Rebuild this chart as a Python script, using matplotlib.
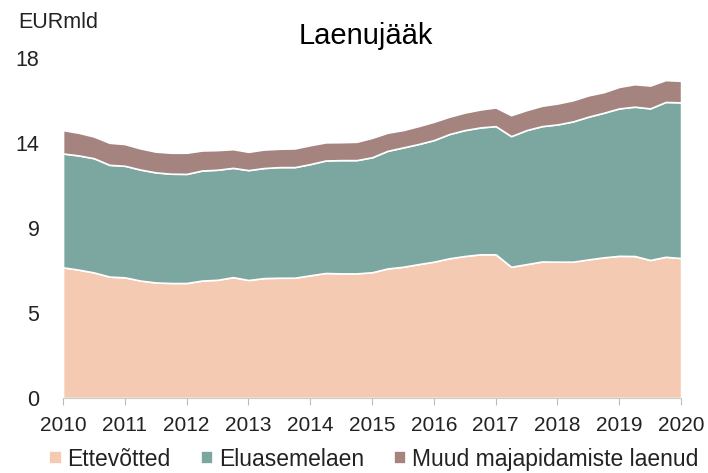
import numpy as np
import matplotlib
matplotlib.use("Agg")
import matplotlib.pyplot as plt

# kvartalid 2010 Q1 ... 2020 Q1
years = np.arange(41) / 4 + 2010

ettevotted = [6.92, 6.80, 6.65, 6.43, 6.39, 6.22, 6.12, 6.09, 6.09, 6.22,
              6.26, 6.40, 6.25, 6.35, 6.37, 6.37, 6.50, 6.62, 6.60, 6.60,
              6.66, 6.86, 6.95, 7.09, 7.22, 7.40, 7.52, 7.61, 7.61, 6.95,
              7.09, 7.23, 7.22, 7.22, 7.34, 7.45, 7.53, 7.52, 7.31, 7.48, 7.41]
eluasemelaen = [6.03, 6.05, 6.05, 5.92, 5.91, 5.88, 5.83, 5.79, 5.78, 5.83,
                5.83, 5.79, 5.82, 5.83, 5.86, 5.86, 5.89, 5.96, 6.00, 6.00,
                6.09, 6.23, 6.32, 6.36, 6.44, 6.58, 6.67, 6.72, 6.79, 6.92,
                7.10, 7.17, 7.27, 7.43, 7.56, 7.66, 7.81, 7.91, 8.03, 8.20, 8.25]
muud = [1.24, 1.20, 1.15, 1.17, 1.15, 1.12, 1.10, 1.11, 1.12, 1.06,
        1.04, 0.99, 0.97, 0.98, 0.97, 0.99, 1.00, 0.96, 0.95, 0.97,
        1.03, 0.96, 0.92, 0.95, 0.97, 0.92, 0.93, 0.95, 0.99, 1.11,
        1.06, 1.08, 1.11, 1.12, 1.13, 1.09, 1.14, 1.19, 1.21, 1.16, 1.14]

labels = ["Ettevõtted", "Eluasemelaen", "Muud majapidamiste laenud"]
colors = ["#F4CBB2", "#7BA7A0", "#A5837F"]
yticks = [0, 4.5, 9, 13.5, 18]
yticklabels = ["0", "5", "9", "14", "18"]

plt.rcParams["font.family"] = ["Liberation Sans", "DejaVu Sans"]

fig = plt.figure(figsize=(7.08, 4.73), dpi=100)
ax = fig.add_axes([0.089, 0.1586, 0.873, 0.7184])

ax.stackplot(years, ettevotted, eluasemelaen, muud, colors=colors,
             labels=labels, edgecolor="white", linewidth=1.2)

ax.set_xlim(2010, 2020)
ax.set_ylim(0, 18)
ax.set_xticks(range(2010, 2021))
ax.set_xticklabels([str(y) for y in range(2010, 2021)], fontsize=15, color="#222222")
ax.set_yticks(yticks)
ax.set_yticklabels(yticklabels, fontsize=15.5, color="#222222")
ax.tick_params(axis="y", length=0, pad=17)
ax.tick_params(axis="x", length=5, color="#BBBBBB", pad=8)
for s in ["top", "right", "left"]:
    ax.spines[s].set_visible(False)
ax.spines["bottom"].set_color("#CCCCCC")

fig.text(0.517, 1 - 36 / 473, "Laenujääk", fontsize=21, color="black",
         ha="center", va="center")
fig.text(18 / 708, 1 - 22 / 473, "EURmld", fontsize=15.5, color="#222222", va="center")

ax.legend(loc="center", bbox_to_anchor=(0.503, -0.18), ncol=3, frameon=False,
          fontsize=16.5, handlelength=0.55, handleheight=0.55, handletextpad=0.25,
          columnspacing=1.3, labelcolor="#222222", borderaxespad=0, borderpad=0)

fig.savefig("out.png", dpi=100)
